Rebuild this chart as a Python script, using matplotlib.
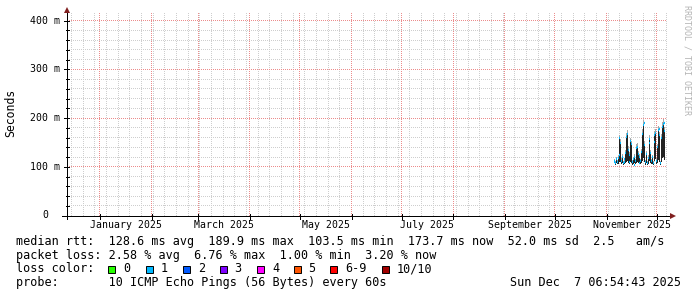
import matplotlib
matplotlib.use('Agg')
import matplotlib.pyplot as plt
import matplotlib.dates as mdates
import matplotlib.transforms as mtrans
from matplotlib.patches import Rectangle
import numpy as np
import pandas as pd

# ---------------- data ----------------
graph_start = '2024-12-12 06:54:43'
graph_end = '2025-12-07 06:54:43'
sample_start = '2025-11-05 12:00'
sample_step = '12h'

median_rtt_ms = [110, 112, 107, 115, 109, 118, 125, 158, 148, 112,
                 120, 108, 116, 110, 128, 162, 168, 135, 110, 124,
                 152, 146, 109, 116, 104, 120, 112, 138, 140, 126,
                 108, 121, 111, 130, 168, 186, 190, 145, 109, 126,
                 107, 118, 148, 157, 128, 111, 119, 108, 150, 166,
                 170, 112, 140, 176, 178, 165, 108, 160, 182, 188,
                 190, 174]
smoke_low_ms = [106, 107, 104, 108, 105, 106, 108, 110, 109, 105,
                107, 104, 106, 105, 107, 110, 112, 108, 104, 106,
                109, 108, 104, 106, 103, 107, 105, 108, 110, 107,
                104, 106, 105, 107, 112, 118, 120, 110, 104, 107,
                103, 106, 110, 112, 107, 105, 106, 104, 109, 112,
                115, 106, 108, 114, 116, 110, 104, 110, 118, 120,
                122, 114]
smoke_high_ms = [114, 116, 111, 119, 113, 124, 132, 166, 156, 117,
                 126, 112, 121, 114, 135, 170, 176, 142, 114, 130,
                 160, 153, 113, 121, 108, 126, 116, 146, 148, 132,
                 112, 127, 115, 137, 178, 196, 200, 153, 113, 132,
                 111, 124, 156, 165, 134, 115, 125, 112, 158, 174,
                 178, 117, 147, 184, 188, 172, 112, 168, 192, 198,
                 200, 182]

y_ticks = [0.0, 0.1, 0.2, 0.3, 0.4]
y_tick_labels = ['0', '100 m', '200 m', '300 m', '400 m']
x_label_months = ['2025-01', '2025-03', '2025-05', '2025-07', '2025-09', '2025-11']
x_label_texts = ['January 2025', 'March 2025', 'May 2025', 'July 2025',
                 'September 2025', 'November 2025']

loss_labels = ['0', '1', '2', '3', '4', '5', '6-9', '10/10']
loss_colors = ['#26ff00', '#00b8ff', '#0059ff', '#7e00ff', '#ff00ff',
               '#ff5500', '#ff0000', '#a10000']

line1 = 'median rtt:  128.6 ms avg  189.9 ms max  103.5 ms min  173.7 ms now  52.0 ms sd  2.5   am/s'
line2 = 'packet loss: 2.58 % avg  6.76 % max  1.00 % min  3.20 % now'
line3 = 'loss color:'
line4 = 'probe:       10 ICMP Echo Pings (56 Bytes) every 60s'
date_text = 'Sun Dec  7 06:54:43 2025'
watermark = 'RRDTOOL / TOBI OETIKER'
ylabel = 'Seconds'

# ---------------- figure ----------------
W, H = 697, 297
fig = plt.figure(figsize=(W / 100, H / 100), dpi=100)
fig.patch.set_facecolor('white')
L, R, T, B = 67, 667, 13, 215.5
ax = fig.add_axes([L / W, 1 - B / H, (R - L) / W, (B - T) / H])
ax.patch.set_visible(False)

t0 = mdates.date2num(pd.Timestamp(graph_start))
t1 = mdates.date2num(pd.Timestamp(graph_end))
ymax = 0.4154
ax.set_xlim(t0, t1)
ax.set_ylim(0, ymax)
for s in ax.spines.values():
    s.set_visible(False)
ax.set_xticks([])
ax.set_yticks([])

MONO = 'DejaVu Sans Mono'
px = 0.72  # one pixel in points
minor_rgb = (206, 206, 206)
major_rgb = (236, 140, 140)

# ---------------- dotted grid (opaque pixel image, positions from the axes scale)
grid = np.full((H, W, 4), 255, dtype=np.uint8)
top_row, bot_row = int(T), int(B)

def vline(xd, rgb):
    c = int(np.floor(ax.transData.transform((xd, 0))[0]))
    for k in range(3):
        grid[top_row:bot_row + 1:2, c, k] = rgb[k]

def hline(yd, rgb):
    r = int(np.floor(H - ax.transData.transform((t0, yd))[1]))
    for k in range(3):
        grid[r, L:R:2, k] = rgb[k]

minor_y = np.arange(0.02, ymax, 0.02)
for v in minor_y:
    hline(v, minor_rgb)
weeks = pd.date_range(pd.Timestamp(graph_start).normalize(), graph_end, freq='W-SUN')
for d in weeks:
    vline(mdates.date2num(d), minor_rgb)
for v in y_ticks[1:]:
    hline(v, major_rgb)
months = pd.date_range('2025-01-01', graph_end, freq='MS')
for d in months:
    vline(mdates.date2num(d), major_rgb)
gim = fig.figimage(grid, xo=0, yo=0, origin='upper', zorder=-1)
gim.set_interpolation('nearest')

# ---------------- data marks ----------------
times = pd.date_range(sample_start, periods=len(median_rtt_ms), freq=sample_step)
tn = mdates.date2num(times)
med = np.array(median_rtt_ms) / 1000.0
lo = np.array(smoke_low_ms) / 1000.0
hi = np.array(smoke_high_ms) / 1000.0
step_days = pd.Timedelta(sample_step) / pd.Timedelta('1D')

ax.bar(tn, hi - med, bottom=med, width=step_days, color='#a8a8a8',
       linewidth=0, zorder=2, align='center')
ax.bar(tn, med - lo, bottom=lo, width=step_days, color='#222222',
       linewidth=0, zorder=2.2, align='center')
ax.hlines(med, tn - step_days * 0.6, tn + step_days * 0.6, color=loss_colors[1],
          lw=1.6, zorder=3)

# ---------------- axes lines & arrows ----------------
axc = ax.transAxes
arrow_col = '#801f1f'
ax.plot([(62 - L) / (R - L), (671 - L) / (R - L)], [0, 0], color='black', lw=px,
        transform=axc, clip_on=False, zorder=5, antialiased=False)
ax.plot([0, 0], [-(219 - B) / (B - T), 1 + (T - 11) / (B - T)], color='black', lw=px,
        transform=axc, clip_on=False, zorder=5, antialiased=False)
ax.plot([(673 - L) / (R - L)], [0], marker='>', color=arrow_col, ms=4.5, mew=0,
        transform=axc, clip_on=False, zorder=6)
ax.plot([0], [1 + (T - 9.5) / (B - T)], marker='^', color=arrow_col, ms=4.5, mew=0,
        transform=axc, clip_on=False, zorder=6)

# tick marks
for d in months:
    ax.plot([mdates.date2num(d)] * 2, [-3 / (B - T), 2 / (B - T)], color='black',
            lw=px, transform=ax.get_xaxis_transform(), clip_on=False, zorder=5,
            antialiased=False)
for v in np.arange(0.0, ymax, 0.02):
    major = abs(v * 10 - round(v * 10)) < 1e-6
    ln = 3 if major else 1.5
    ax.plot([-ln / (R - L), 1.5 / (R - L)], [v, v], color='black', lw=px,
            transform=ax.get_yaxis_transform(), clip_on=False, zorder=5,
            antialiased=False)

# ---------------- tick labels ----------------
ytrans = mtrans.blended_transform_factory(fig.transFigure, ax.transData)
for v, lab in zip(y_ticks, y_tick_labels):
    xr = 48 if lab == '0' else 60
    fig.text(xr / W, v, lab, transform=ytrans, ha='right', va='center',
             fontsize=7.1, family=MONO, color='black')

xtrans = mtrans.blended_transform_factory(ax.transData, fig.transFigure)
for m, lab in zip(x_label_months, x_label_texts):
    a = pd.Timestamp(m + '-01')
    b = a + pd.offsets.MonthBegin(1)
    mid = (mdates.date2num(a) + mdates.date2num(b)) / 2
    fig.text(mid, 1 - 224.5 / H, lab, transform=xtrans, ha='center', va='center',
             fontsize=7.1, family=MONO, color='black')

# ---------------- labels / legend ----------------
def ftext(x, y, s, **kw):
    kw.setdefault('family', MONO)
    kw.setdefault('fontsize', 8.5)
    kw.setdefault('color', 'black')
    return fig.text(x / W, 1 - y / H, s, **kw)

ftext(10.7, 113, ylabel, rotation=90, ha='center', va='center', fontsize=8.3)
ftext(687, 5, watermark, rotation=270, ha='center', va='top', fontsize=6,
      color='#b4b4b4')

ftext(16, 241.5, line1, ha='left', va='center')
ftext(16, 255.2, line2, ha='left', va='center')
ftext(16, 269, line3, ha='left', va='center')
ftext(16, 282.8, line4, ha='left', va='center')
ftext(681, 282.8, date_text, ha='right', va='center')

box_x = [108, 146, 183, 219.5, 257, 293.5, 330, 382]
for bx, lab, col in zip(box_x, loss_labels, loss_colors):
    fig.add_artist(Rectangle((bx / W, 1 - 273.3 / H), 7.3 / W, 7.6 / H,
                             transform=fig.transFigure, facecolor=col,
                             edgecolor='black', lw=0.7))
    ftext(bx + 15, 269, lab, ha='left', va='center')

fig.savefig('out.png', dpi=100, facecolor='white')
